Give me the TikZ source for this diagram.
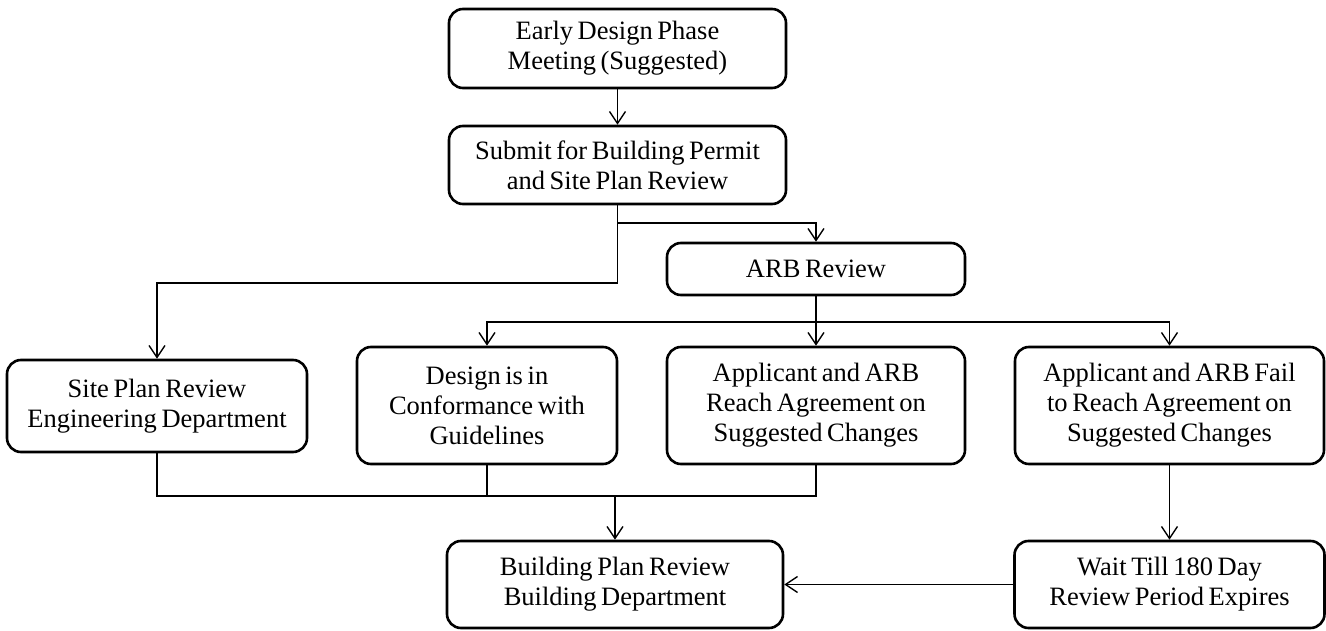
\documentclass[tikz,border=0pt]{standalone}
\usepackage{fontspec}
\setmainfont{Liberation Serif}[WordSpace=0.7]
\usetikzlibrary{arrows.meta}
\tikzset{
    stepbox/.style={draw=black, line width=2.6pt, rounded corners=14pt, align=center,
        font=\fontsize{26.5}{30}\selectfont, inner sep=2pt},
    link/.style={line width=1.4pt, -{Straight Barb[length=12pt,width=16pt,line width=1.4pt]}},
    plain/.style={line width=1.4pt}
}
\begin{document}
\begin{tikzpicture}[x=1pt, y=-1pt]
    \useasboundingbox (0,0) rectangle (1326,631);
    % boxes
    \node[stepbox, minimum width=337pt, minimum height=79pt] (early) at (617.5,48.5) {Early Design Phase\\Meeting (Suggested)};
    \node[stepbox, minimum width=337pt, minimum height=78pt] (submit) at (617.5,165) {Submit for Building Permit\\and Site Plan Review};
    \node[stepbox, minimum width=298pt, minimum height=52pt] (arb) at (816,269) {ARB Review};
    \node[stepbox, minimum width=300pt, minimum height=92pt] (site) at (157,406) {Site Plan Review\\Engineering Department};
    \node[stepbox, minimum width=260pt, minimum height=117pt] (design) at (487,405.5) {Design is in\\Conformance with\\Guidelines};
    \node[stepbox, minimum width=298pt, minimum height=117pt] (reach) at (816,405.5) {Applicant and ARB\\Reach Agreement on\\Suggested Changes};
    \node[stepbox, minimum width=309pt, minimum height=117pt] (fail) at (1169.5,405.5) {Applicant and ARB Fail\\to Reach Agreement on\\Suggested Changes};
    \node[stepbox, minimum width=336pt, minimum height=87pt] (building) at (615,584.5) {Building Plan Review\\Building Department};
    \node[stepbox, minimum width=310pt, minimum height=87pt] (wait) at (1169.5,584.5) {Wait Till 180 Day\\Review Period Expires};
    % junctions
    \coordinate (split) at (617.5,223);
    \coordinate (bend) at (617.5,283);
    \coordinate (fork) at (816,322);
    \coordinate (merge) at (615,496);
    % connectors
    \draw[link] (early) -- (submit);
    \draw[plain] (submit.south) -- (split);
    \draw[link] (split) -| (arb.north);
    \draw[link] (split) -- (bend) -| (site.north);
    \draw[plain] (arb.south) -- (fork);
    \draw[link] (fork) -| (design.north);
    \draw[link] (fork) -- (reach.north);
    \draw[link] (fork) -| (fail.north);
    \draw[plain] (site.south) |- (merge);
    \draw[plain] (design.south) |- (merge);
    \draw[plain] (reach.south) |- (merge);
    \draw[link] (merge) -- (building.north);
    \draw[link] (fail) -- (wait);
    \draw[link] (wait) -- (building);
\end{tikzpicture}
\end{document}
